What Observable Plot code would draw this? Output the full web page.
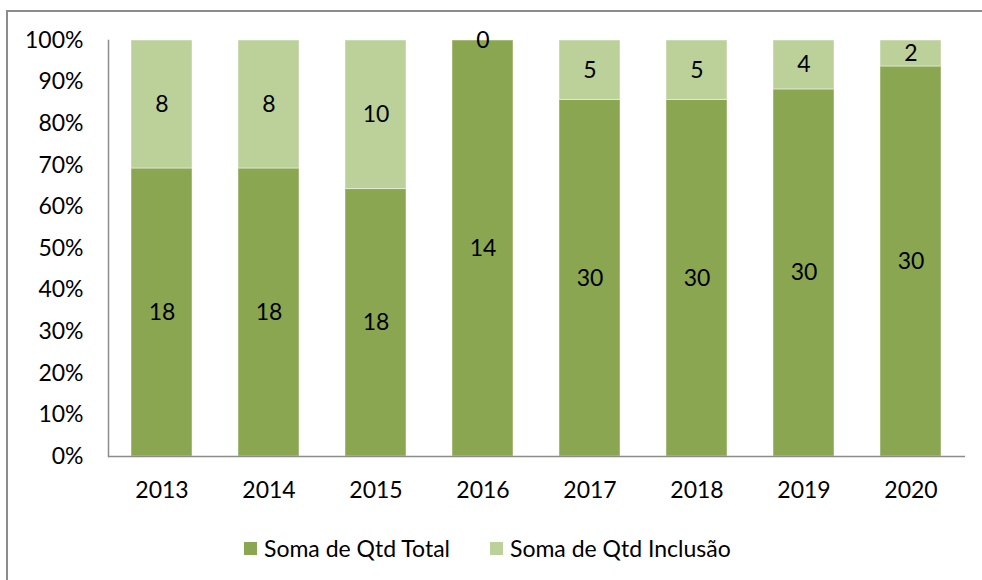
<!DOCTYPE html>
<html>
<head>
<meta charset="utf-8">
<script src="https://cdn.jsdelivr.net/npm/d3@7"></script>
<script src="https://cdn.jsdelivr.net/npm/@observablehq/plot@0.6"></script>
<style>
  html, body { margin: 0; padding: 0; background: #fff; }
  #wrap { position: relative; width: 982px; height: 580px; overflow: hidden; font-family: Lato, "Open Sans", sans-serif; }
  #frame { position: absolute; left: 6px; top: 10px; right: -10px; bottom: -10px; border-left: 2px solid #8c8c8c; border-top: 2px solid #8c8c8c; }
  #chart { position: absolute; left: 0; top: 0; }
  #legend { position: absolute; left: 0; top: 534px; width: 982px; height: 28px; font-size: 23px; color: #000; }
  .item { position: absolute; top: 0; display: flex; align-items: center; height: 28px; }
  .sw { width: 13px; height: 13px; margin-right: 7px; }
</style>
</head>
<body>
<div id="wrap">
  <div id="frame"></div>
  <div id="chart"></div>
  <div id="legend"></div>
</div>
<script>
const years = ["2013", "2014", "2015", "2016", "2017", "2018", "2019", "2020"];
const seriesNames = ["Soma de Qtd Total", "Soma de Qtd Inclusão"];
const total = [18, 18, 18, 14, 30, 30, 30, 30];
const inclusao = [8, 8, 10, 0, 5, 5, 4, 2];
const colors = ["#8AA650", "#BCD09A"];
const yTicks = [0, 0.1, 0.2, 0.3, 0.4, 0.5, 0.6, 0.7, 0.8, 0.9, 1];

const data = [];
years.forEach((y, i) => {
  data.push({year: y, series: seriesNames[0], value: total[i]});
  data.push({year: y, series: seriesNames[1], value: inclusao[i]});
});

const stackOpts = {x: "year", y: "value", z: "series", order: seriesNames, offset: "normalize"};

const plot = Plot.plot({
  width: 982,
  height: 580,
  marginTop: 40,
  marginBottom: 124,
  marginLeft: 108,
  marginRight: 17,
  style: {fontFamily: "Lato, 'Open Sans', sans-serif", fontSize: "23px", color: "#000", background: "transparent"},
  x: {domain: years, paddingInner: 0.426, paddingOuter: 0.213, label: null},
  y: {domain: [0, 1], label: null},
  color: {domain: seriesNames, range: colors},
  marks: [
    Plot.barY(data, Plot.stackY({...stackOpts, fill: "series", stroke: "#ffffff", strokeOpacity: 0.45, strokeWidth: 1})),
    Plot.text(data, Plot.stackY({...stackOpts, text: "value", fill: "#000", fontSize: 23})),
    Plot.axisY({ticks: yTicks, tickFormat: d3.format(".0%"), tickSize: 0, tickPadding: 25, label: null, fill: "#000", fontSize: 23}),
    Plot.axisX({tickSize: 0, tickPadding: 25, label: null, fill: "#000", fontSize: 23}),
    Plot.frame({anchor: "left", stroke: "#8c8c8c", strokeWidth: 1.5, strokeOpacity: 1}),
    Plot.ruleY([0], {stroke: "#8c8c8c", strokeWidth: 1.5})
  ]
});
document.getElementById("chart").appendChild(plot);

const legend = document.getElementById("legend");
const lefts = [244, 490];
seriesNames.forEach((s, i) => {
  const it = document.createElement("div");
  it.className = "item";
  it.style.left = lefts[i] + "px";
  const sw = document.createElement("div");
  sw.className = "sw";
  sw.style.background = colors[i];
  const t = document.createElement("span");
  t.textContent = s;
  it.appendChild(sw);
  it.appendChild(t);
  legend.appendChild(it);
});
</script>
</body>
</html>
